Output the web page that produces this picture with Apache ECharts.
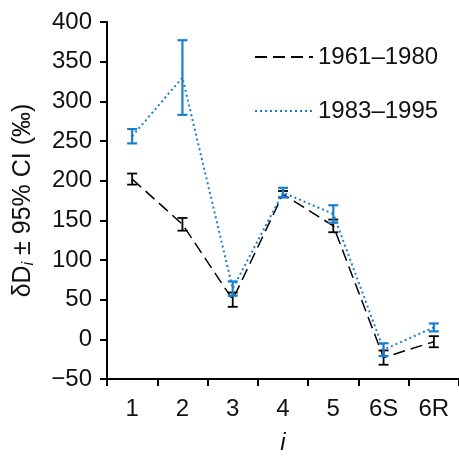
<!DOCTYPE html>
<html><head><meta charset="utf-8">
<script src="https://cdn.jsdelivr.net/npm/echarts@6/dist/echarts.min.js"></script>
<style>html,body{margin:0;padding:0;background:#fff}#c{width:459px;height:460px}</style>
</head><body><div id="c"></div>
<script>
const categories = ['1','2','3','4','5','6S','6R'];
const yTicks = [-50,0,50,100,150,200,250,300,350,400];
const early = [202, 145, 50, 183, 143, -23, -3];
const earlyCI = [7, 8, 9, 4, 8, 9, 7];
const late = [256, 330, 64, 185, 158, -13, 15];
const lateCI = [9, 47, 9, 6, 11, 8, 5];

const FONT = 'Liberation Sans, Arial, sans-serif';
const BLUE = '#1a7fd0';
const TXT = '#111';

function errSeries(name, vals, ci, color, w) {
  return {
    type: 'custom', name: name + ' CI', z: 5, silent: true,
    data: vals.map((v, i) => [i, v - ci[i], v + ci[i]]),
    renderItem: function (params, api) {
      const lo = api.coord([api.value(0), api.value(1)]);
      const hi = api.coord([api.value(0), api.value(2)]);
      const hw = 5;
      const st = { stroke: color, lineWidth: w };
      return { type: 'group', children: [
        { type: 'line', shape: { x1: lo[0], y1: lo[1], x2: hi[0], y2: hi[1] }, style: st },
        { type: 'line', shape: { x1: lo[0]-hw, y1: lo[1], x2: lo[0]+hw, y2: lo[1] }, style: st },
        { type: 'line', shape: { x1: hi[0]-hw, y1: hi[1], x2: hi[0]+hw, y2: hi[1] }, style: st }
      ]};
    }
  };
}

const chart = echarts.init(document.getElementById('c'), null, { renderer: 'canvas' });
chart.setOption({
  animation: false,
  backgroundColor: '#fff',
  grid: { left: 107, top: 22, width: 354, height: 365 },
  legend: {
    orient: 'vertical', left: 249, top: 40, itemGap: 30,
    itemWidth: 58, itemHeight: 24,
    itemStyle: { opacity: 0 },
    textStyle: { fontFamily: FONT, fontSize: 24, color: TXT },
    data: ['1961–1980', '1983–1995']
  },
  xAxis: {
    type: 'category', data: categories, boundaryGap: true,
    axisLine: { onZero: false, lineStyle: { color: '#000', width: 2 } },
    axisTick: { show: true, length: 7, lineStyle: { color: '#000', width: 2 } },
    axisLabel: { margin: 18, fontFamily: FONT, fontSize: 24, color: TXT },
    name: 'i', nameLocation: 'middle', nameGap: 52,
    nameTextStyle: { fontFamily: FONT, fontSize: 24, fontStyle: 'italic', color: TXT }
  },
  yAxis: {
    type: 'value', min: -50, max: 400, interval: 50,
    splitLine: { show: false },
    axisLine: { show: true, lineStyle: { color: '#000', width: 2 } },
    axisTick: { show: true, length: 7, lineStyle: { color: '#000', width: 2 } },
    axisLabel: { margin: 15, fontFamily: FONT, fontSize: 24, color: TXT,
      formatter: v => (v < 0 ? '\u2212' + Math.abs(v) : String(v)) },
    name: '{a|δD}{s|i}{a| ± 95% CI (‰)}', nameLocation: 'middle', nameGap: 70, nameRotate: 90,
    nameTextStyle: { fontFamily: FONT, fontSize: 25, color: TXT,
      rich: {
        a: { fontFamily: FONT, fontSize: 25, color: TXT },
        s: { fontFamily: FONT, fontSize: 16, fontStyle: 'italic', color: TXT, verticalAlign: 'bottom', padding: [12, 0, 0, 0] }
      } }
  },
  series: [
    { name: '1961–1980', type: 'line', data: early, symbol: 'none', z: 3,
      lineStyle: { color: '#000', width: 1.5, type: [12, 6] }, itemStyle: { color: '#000' } },
    { name: '1983–1995', type: 'line', data: late, symbol: 'none', z: 4,
      lineStyle: { color: BLUE, width: 2, type: [2, 3] }, itemStyle: { color: BLUE } },
    errSeries('1961–1980', early, earlyCI, '#000', 1.8),
    errSeries('1983–1995', late, lateCI, BLUE, 2.2)
  ]
});
</script></body></html>
